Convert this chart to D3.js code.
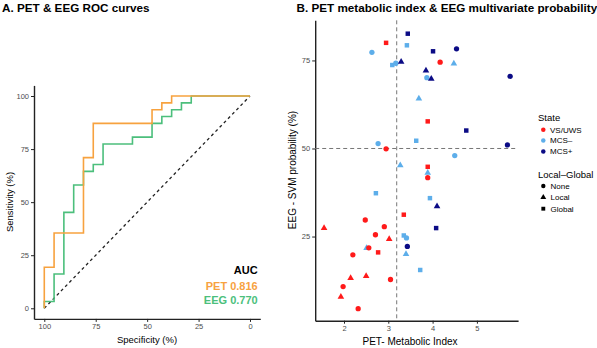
<!DOCTYPE html>
<html>
<head>
<meta charset="utf-8">
<script src="https://cdn.jsdelivr.net/npm/d3@7"></script>
<style>
  body { margin: 0; background: #fff; }
  svg { display: block; font-family: "Liberation Sans", Arial, sans-serif; }
</style>
</head>
<body>
<svg id="chart" width="597" height="348"></svg>
<script>
// ROC corners (specificity %, sensitivity %)
const petSpec = [100, 100, 95.24, 95.24, 80.95, 80.95, 76.19, 76.19, 47.62, 47.62, 42.86, 42.86, 38.10, 38.10, 0];
const petSens = [0, 19.35, 19.35, 35.48, 35.48, 70.97, 70.97, 87.10, 87.10, 93.55, 93.55, 96.77, 96.77, 100, 100];
const eegSpec = [100, 100, 95.24, 95.24, 90.48, 90.48, 85.71, 85.71, 80.95, 80.95, 76.19, 76.19, 71.43, 71.43,
                 57.14, 57.14, 47.62, 47.62, 42.86, 42.86, 38.10, 38.10, 33.33, 33.33, 28.57, 28.57, 0];
const eegSens = [0, 3.23, 3.23, 16.13, 16.13, 45.16, 45.16, 58.06, 58.06, 64.52, 64.52, 67.74, 67.74, 77.42,
                 77.42, 80.65, 80.65, 87.10, 87.10, 90.32, 90.32, 93.55, 93.55, 96.77, 96.77, 100, 100];
const aucLabels = ["PET 0.816", "EEG 0.770"];
const rocTicks = [100, 75, 50, 25, 0];

// patients: PET metabolic index vs EEG SVM probability
const pmi = [3.44, 2.95, 2.63, 3.42, 4.01, 4.54, 4.17, 4.48, 3.09, 3.17, 3.29, 3.85, 3.87, 3.97, 3.69, 3.89,
             5.75, 4.76, 5.69, 2.77, 2.95, 3.63, 4.50, 3.27, 3.89, 3.89, 3.89, 3.94, 4.10, 3.35, 4.08, 2.91,
             3.02, 3.35, 3.41, 3.43, 1.55, 2.48, 2.71, 2.51, 2.56, 2.77, 2.20, 3.40, 3.72, 2.15, 2.50, 3.05,
             1.98, 1.93, 2.32, 2.72];
const svmProb = [82.6, 80.0, 77.3, 79.3, 77.6, 78.3, 74.5, 74.1, 73.7, 74.2, 74.6, 72.1, 70.1, 69.8, 64.2, 57.7,
                 70.5, 55.1, 51.0, 51.4, 49.9, 52.2, 48.0, 45.2, 44.8, 43.1, 41.7, 35.9, 33.6, 31.2, 27.4, 27.8,
                 24.3, 25.3, 24.6, 22.2, 27.4, 29.7, 25.5, 21.7, 21.8, 20.5, 19.8, 20.0, 15.5, 13.2, 13.8, 12.8,
                 10.8, 7.9, 4.5, 37.3];
const state = ["MCS+", "VS/UWS", "MCS-", "MCS-", "MCS+", "MCS+", "VS/UWS", "MCS-", "MCS-", "MCS-", "MCS+", "MCS+",
               "MCS-", "MCS+", "MCS-", "VS/UWS", "MCS+", "MCS+", "MCS+", "MCS-", "VS/UWS", "MCS-", "MCS-", "MCS-",
               "VS/UWS", "MCS-", "VS/UWS", "MCS-", "MCS+", "VS/UWS", "MCS+", "VS/UWS", "VS/UWS", "MCS-", "MCS-", "MCS+",
               "VS/UWS", "VS/UWS", "VS/UWS", "MCS-", "VS/UWS", "VS/UWS", "VS/UWS", "MCS-", "MCS-", "VS/UWS", "VS/UWS", "VS/UWS",
               "VS/UWS", "VS/UWS", "VS/UWS", "MCS-"];
const localGlobal = ["Global", "Global", "None", "Global", "Global", "None", "None", "Local", "Global", "None", "Local", "Local",
                     "None", "Local", "Local", "Global", "None", "Global", "None", "None", "None", "Global", "None", "Local",
                     "Global", "Local", "None", "Global", "Local", "Global", "Global", "None", "Local", "Global", "None", "None",
                     "Local", "None", "None", "Local", "None", "Global", "None", "Local", "Global", "Local", "Local", "None",
                     "None", "Local", "None", "Global"];
const states = ["VS/UWS", "MCS-", "MCS+"];
const stateLabels = ["VS/UWS", "MCS\u2013", "MCS+"];
const lgLevels = ["None", "Local", "Global"];
const pmiTicks = [2, 3, 4, 5];
const probTicks = [25, 50, 75];
const pmiCut = 3.19;
const probCut = 50;

const svg = d3.select("#chart");
const axisColor = "#222";
const tickColor = "#4d4d4d";

// ---------- A. ROC ----------
const xRoc = d3.scaleLinear().domain([105, -5]).range([34, 260.3]);
const yRoc = d3.scaleLinear().domain([-5, 105]).range([318.9, 85.4]);

svg.append("text").attr("x", 2).attr("y", 11.5)
  .attr("font-size", 11.7).attr("font-weight", "bold").text("A. PET & EEG ROC curves");

function styleAxis(g) {
  g.select(".domain").attr("stroke", axisColor).attr("stroke-width", 1.4);
  g.selectAll(".tick line").attr("stroke", axisColor).attr("stroke-width", 1);
  g.selectAll(".tick text").attr("fill", tickColor).attr("font-size", 7.5);
}

svg.append("g").attr("transform", "translate(0,318.9)")
  .call(d3.axisBottom(xRoc).tickValues(rocTicks).tickSize(3).tickSizeOuter(0).tickPadding(2))
  .call(styleAxis);
svg.append("g").attr("transform", "translate(34,0)")
  .call(d3.axisLeft(yRoc).tickValues(rocTicks.slice().reverse()).tickSize(3).tickSizeOuter(0).tickPadding(2))
  .call(styleAxis);

svg.append("line")
  .attr("x1", xRoc(100)).attr("y1", yRoc(0)).attr("x2", xRoc(0)).attr("y2", yRoc(100))
  .attr("stroke", "#222").attr("stroke-width", 1.3).attr("stroke-dasharray", "3,3");

const rocLine = d3.line().x(d => xRoc(d[0])).y(d => yRoc(d[1]));
svg.append("path").datum(eegSpec.map((s, i) => [s, eegSens[i]]))
  .attr("d", rocLine).attr("fill", "none").attr("stroke", "#4cbf7c").attr("stroke-width", 1.6);
svg.append("path").datum(petSpec.map((s, i) => [s, petSens[i]]))
  .attr("d", rocLine).attr("fill", "none").attr("stroke", "#f7a23f").attr("stroke-width", 1.6);

const auc = svg.append("g").attr("font-weight", "bold").attr("text-anchor", "end").attr("font-size", 11);
auc.append("text").attr("x", 257.7).attr("y", 274).attr("fill", "#000").text("AUC");
auc.append("text").attr("x", 257.7).attr("y", 289.5).attr("fill", "#f7a23f").text(aucLabels[0]);
auc.append("text").attr("x", 257.7).attr("y", 304).attr("fill", "#4cbf7c").text(aucLabels[1]);

svg.append("text").attr("x", 147).attr("y", 343).attr("text-anchor", "middle")
  .attr("font-size", 9.5).text("Specificity (%)");
svg.append("text").attr("transform", "translate(13,202) rotate(-90)").attr("text-anchor", "middle")
  .attr("font-size", 9.5).text("Sensitivity (%)");

// ---------- B. scatter ----------
const xs = d3.scaleLinear().domain([1.35, 5.93]).range([315.2, 518.1]);
const ys = d3.scaleLinear().domain([1.1, 86.4]).range([320.7, 20.3]);
const color = d3.scaleOrdinal().domain(states).range(["#ff1a1a", "#5daeea", "#0b0b85"]);
const shape = d3.scaleOrdinal().domain(lgLevels).range([d3.symbolCircle, d3.symbolTriangle, d3.symbolSquare]);
const size = d3.scaleOrdinal().domain(lgLevels).range([22, 19, 20]);

svg.append("text").attr("x", 296.5).attr("y", 11.5)
  .attr("font-size", 11.7).attr("font-weight", "bold").text("B. PET metabolic index & EEG multivariate probability");

svg.append("g").attr("transform", "translate(0,320.7)")
  .call(d3.axisBottom(xs).tickValues(pmiTicks).tickFormat(d3.format("d")).tickSize(3).tickSizeOuter(0).tickPadding(2))
  .call(styleAxis);
svg.append("g").attr("transform", "translate(315.2,0)")
  .call(d3.axisLeft(ys).tickValues(probTicks).tickSize(3).tickSizeOuter(0).tickPadding(2))
  .call(styleAxis);

svg.append("line")
  .attr("x1", xs(pmiCut)).attr("x2", xs(pmiCut)).attr("y1", ys.range()[1]).attr("y2", ys.range()[0])
  .attr("stroke", "#777").attr("stroke-width", 1).attr("stroke-dasharray", "4,3");
svg.append("line")
  .attr("x1", xs.range()[0]).attr("x2", xs.range()[1]).attr("y1", ys(probCut)).attr("y2", ys(probCut))
  .attr("stroke", "#777").attr("stroke-width", 1).attr("stroke-dasharray", "4,3");

const pts = pmi.map((v, i) => ({ x: v, y: svmProb[i], s: state[i], lg: localGlobal[i] }));
svg.append("g").selectAll("path").data(pts).join("path")
  .attr("transform", d => `translate(${xs(d.x)},${ys(d.y)})`)
  .attr("d", d => d3.symbol(shape(d.lg), size(d.lg))())
  .attr("fill", d => color(d.s));

svg.append("text").attr("x", 410).attr("y", 345).attr("text-anchor", "middle")
  .attr("font-size", 10).text("PET- Metabolic Index");
svg.append("text").attr("transform", "translate(296,170) rotate(-90)").attr("text-anchor", "middle")
  .attr("font-size", 10).text("EEG - SVM probability (%)");

// legends
const leg = svg.append("g");
leg.append("text").attr("x", 538).attr("y", 121).attr("font-size", 9.5).text("State");
states.forEach((s, i) => {
  const yy = 129.8 + i * 10.8;
  leg.append("path").attr("transform", `translate(543.3,${yy})`)
    .attr("d", d3.symbol(d3.symbolCircle, 16)()).attr("fill", color(s));
  leg.append("text").attr("x", 550).attr("y", yy + 2.8).attr("font-size", 8).text(stateLabels[i]);
});
leg.append("text").attr("x", 538).attr("y", 177.8).attr("font-size", 9.5).text("Local\u2013Global");
lgLevels.forEach((l, i) => {
  const yy = 186 + i * 11.35;
  leg.append("path").attr("transform", `translate(543.3,${yy})`)
    .attr("d", d3.symbol(shape(l), 15)()).attr("fill", "#000");
  leg.append("text").attr("x", 550.5).attr("y", yy + 2.8).attr("font-size", 8).text(l);
});
</script>
</body>
</html>
